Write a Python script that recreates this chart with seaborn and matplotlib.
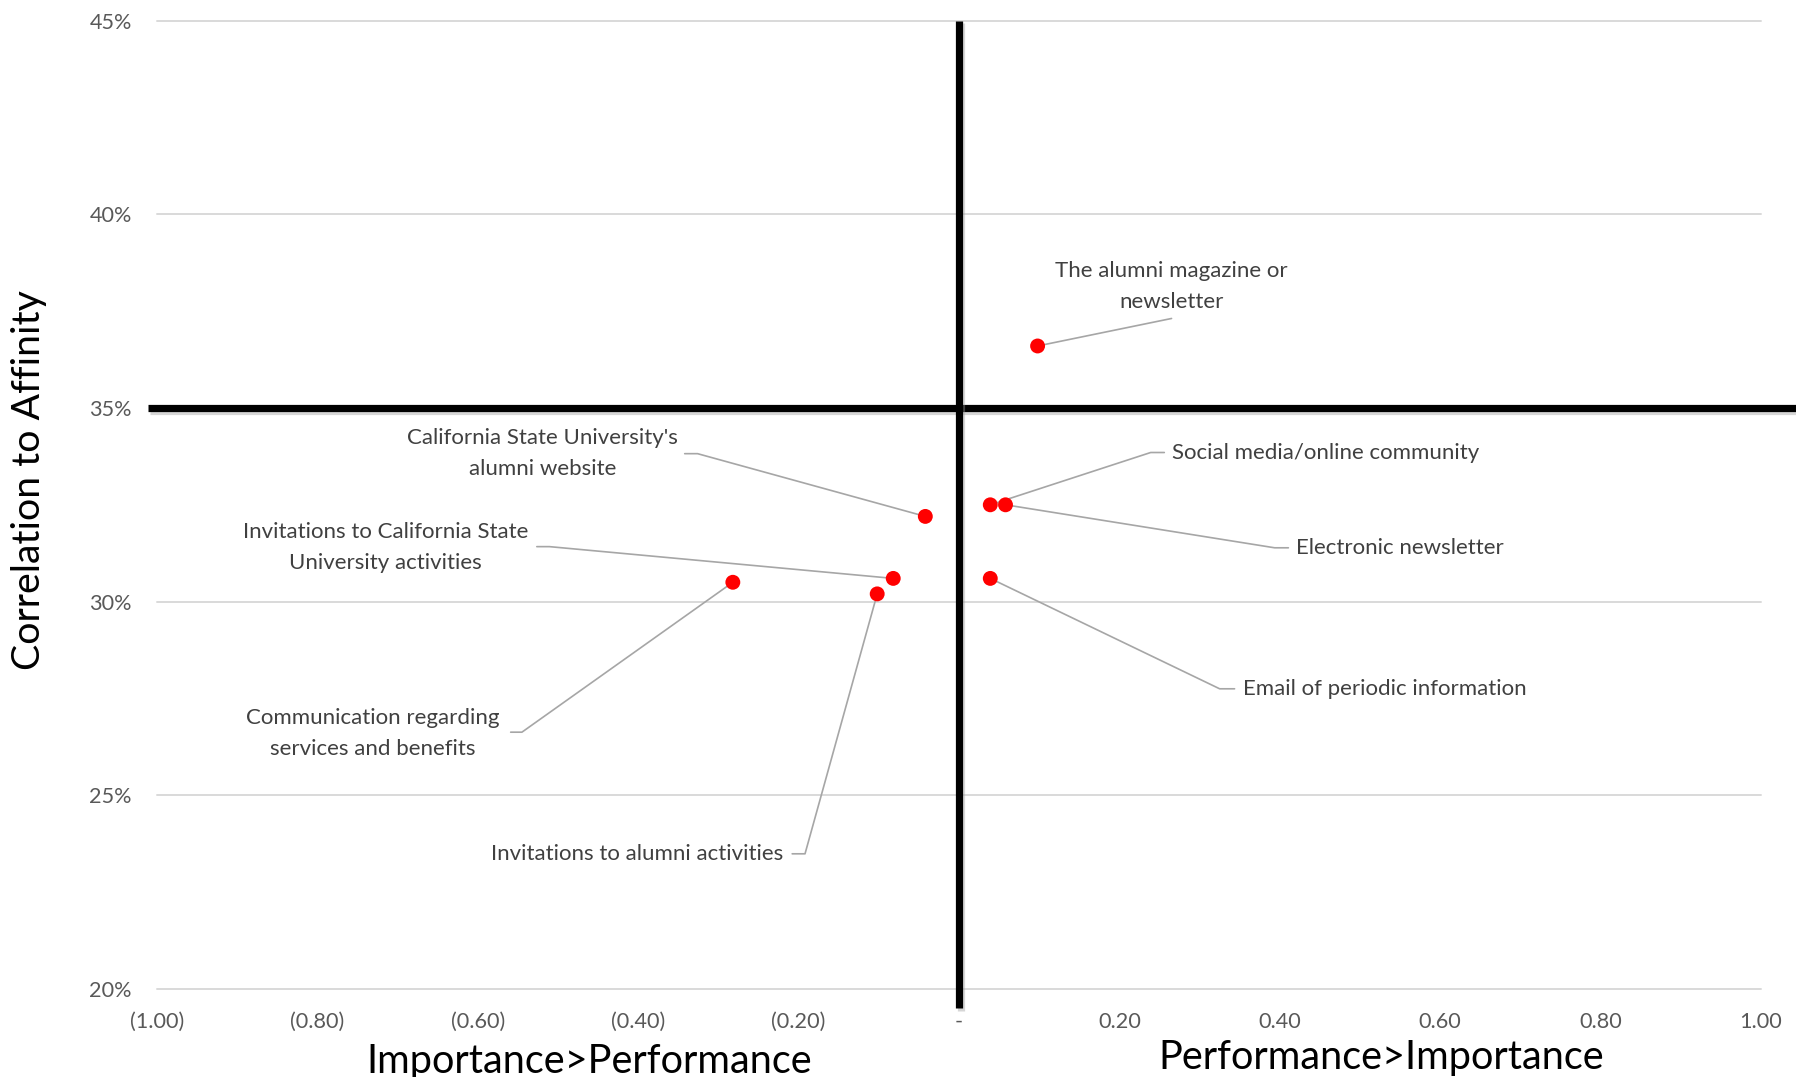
import matplotlib
matplotlib.use("Agg")
import matplotlib.pyplot as plt
import matplotlib.patheffects as pe
from matplotlib.ticker import FuncFormatter, MultipleLocator
import seaborn as sns
import pandas as pd

# ---------------- data ----------------
channels = [
    "The alumni magazine or\nnewsletter",
    "California State University's\nalumni website",
    "Social media/online community",
    "Electronic newsletter",
    "Email of periodic information",
    "Invitations to California State\nUniversity activities",
    "Invitations to alumni activities",
    "Communication regarding\nservices and benefits",
]
performance_gap = [0.098, -0.042, 0.039, 0.058, 0.039, -0.082, -0.102, -0.282]
affinity_corr = [36.6, 32.2, 32.5, 32.5, 30.6, 30.6, 30.2, 30.5]

x_ticks = [-1.0, -0.8, -0.6, -0.4, -0.2, 0.0, 0.2, 0.4, 0.6, 0.8, 1.0]
y_ticks = [20, 25, 30, 35, 40, 45]
x_split = 0.0
y_split = 35.0

# ---------------- label layout (data units) ----------------
# (text x, text y, alignment, elbow x, elbow y, stub end x)
label_layout = [
    (0.265, 38.14, "center", 0.265, 37.31, None),
    (-0.519, 33.82, "center", -0.326, 33.82, -0.342),
    (0.266, 33.85, "left", 0.239, 33.85, 0.256),
    (0.4207, 31.39, "left", 0.3936, 31.39, 0.4107),
    (0.3536, 27.75, "left", 0.325, 27.75, 0.3436),
    (-0.715, 31.39, "center", -0.5107, 31.42, -0.5264),
    (-0.219, 23.49, "right", -0.192, 23.49, -0.208),
    (-0.731, 26.60, "center", -0.545, 26.63, -0.559),
]

df = pd.DataFrame({"channel": channels, "gap": performance_gap, "corr": affinity_corr})

sns.set_theme(style="white")
plt.rcParams["font.family"] = ["Lato", "DejaVu Sans"]

W, H = 1796, 1077
fig = plt.figure(figsize=(W / 100, H / 100), dpi=100)
left_px, right_px, top_px, bottom_px = 157, 1761, 20.6, 989
ax = fig.add_axes([left_px / W, 1 - bottom_px / H,
                   (right_px - left_px) / W, (bottom_px - top_px) / H])

sns.scatterplot(data=df, x="gap", y="corr", ax=ax, color="#ff0000",
                s=115, edgecolor="none", zorder=4, legend=False)

ax.set_xlim(x_ticks[0], x_ticks[-1])
ax.set_ylim(y_ticks[0], y_ticks[-1])
ax.xaxis.set_major_locator(MultipleLocator(0.2))
ax.set_yticks(y_ticks)


def xfmt(v, pos):
    if abs(v) < 1e-9:
        return "-"
    if v < 0:
        return f"({abs(v):.2f})"
    return f"{v:.2f}"


ax.xaxis.set_major_formatter(FuncFormatter(xfmt))
ax.yaxis.set_major_formatter(FuncFormatter(lambda v, p: f"{v:.0f}%"))
ax.tick_params(axis="both", length=0, labelsize=15.6, labelcolor="#595959")
ax.tick_params(axis="y", pad=18)
ax.tick_params(axis="x", pad=16.5)
ax.set_xlabel("")
ax.set_ylabel("")

for s in ax.spines.values():
    s.set_visible(False)
ax.yaxis.grid(True, color="#d9d9d9", lw=1.4)
ax.xaxis.grid(False)
for gl in ax.get_ygridlines():
    gl.set_clip_on(False)

# quadrant divider lines
shadow = [pe.SimpleLineShadow(offset=(1.5, -2), shadow_color="#9a9a9a", alpha=0.4), pe.Normal()]
ax.axhline(y_split, xmin=-0.0055, xmax=1.0225, color="black", lw=5.2,
           clip_on=False, zorder=3, path_effects=shadow, solid_capstyle="butt")
ax.axvline(x_split, ymin=-0.0196, ymax=1.0, color="black", lw=5.2,
           clip_on=False, zorder=3, path_effects=shadow, solid_capstyle="butt")

# data labels with leader lines
for name, x, y, lay in zip(channels, performance_gap, affinity_corr, label_layout):
    tx, ty, ha, ex, ey, sx = lay
    xs, ys = [x, ex], [y, ey]
    if sx is not None:
        xs.append(sx)
        ys.append(ey)
    ax.plot(xs, ys, color="#a6a6a6", lw=1.2, zorder=3.5)
    ax.text(tx, ty, name, ha=ha, va="center", fontsize=16, color="#404040",
            linespacing=1.7, multialignment="center", zorder=5)

# axis titles
fig.text(589 / W, 1 - 1061 / H, "Importance>Performance", ha="center", va="center",
         fontsize=28.5, color="black")
fig.text(1381 / W, 1 - 1057 / H, "Performance>Importance", ha="center", va="center",
         fontsize=28.5, color="black")
fig.text(29 / W, 1 - 480 / H, "Correlation to Affinity", ha="center", va="center",
         rotation=90, fontsize=28.3, color="black")

fig.savefig("out.png", dpi=100, facecolor="white")
